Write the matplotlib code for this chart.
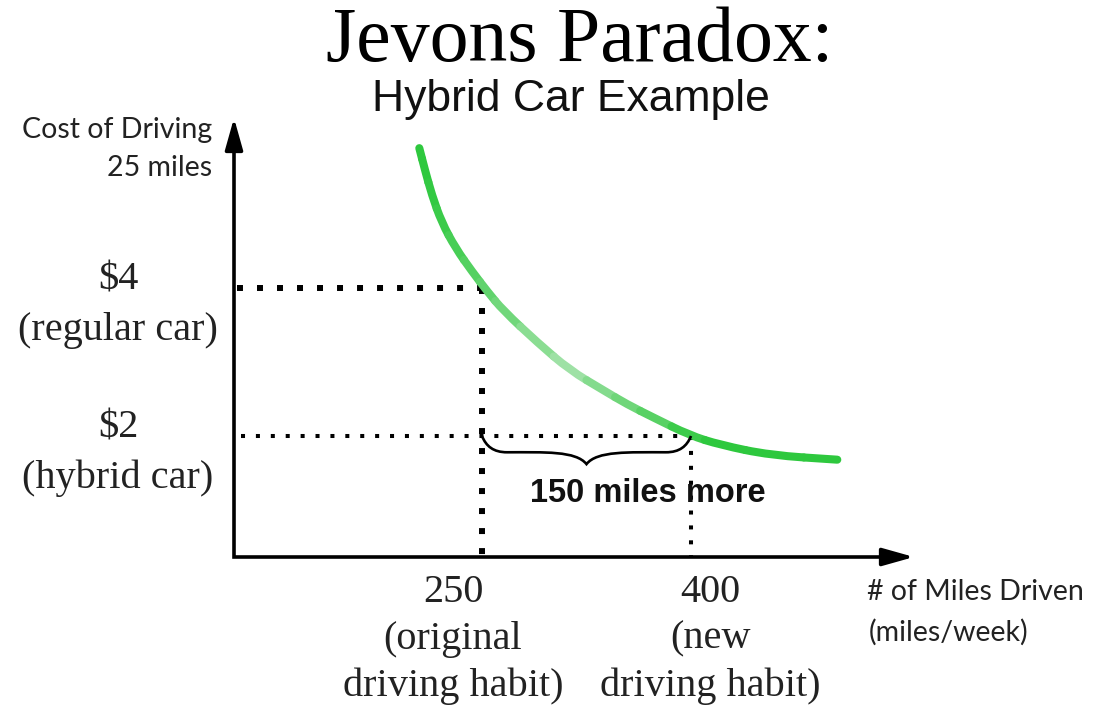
import numpy as np
import matplotlib
matplotlib.use("Agg")
import matplotlib.pyplot as plt
from matplotlib.path import Path
from matplotlib.patches import PathPatch
from matplotlib.colors import to_rgb

# ---------------- data ----------------
title = "Jevons Paradox:"
subtitle = "Hybrid Car Example"
y_label = ["Cost of Driving", "25 miles"]
x_label = ["# of Miles Driven", "(miles/week)"]

miles_marks = [250, 400]
miles_labels = [["250", "(original", "driving habit)"], ["400", "(new", "driving habit)"]]
cost_marks = [4, 2]
cost_labels = [["$4", "(regular car)"], ["$2", "(hybrid car)"]]
brace_text = "150 miles more"

# demand curve (miles/week, cost of driving 25 miles in $)
curve_miles = [205, 209, 214, 221, 231, 243, 254, 265, 290, 313, 337, 354, 373, 399, 421, 457, 505]
curve_cost = [5.89, 5.60, 5.26, 4.89, 4.54, 4.22, 3.95, 3.70, 3.26, 2.89, 2.62, 2.43, 2.25, 2.01, 1.88, 1.74, 1.68]

# ---------------- layout ----------------
W, H = 1094, 712
fig = plt.figure(figsize=(W / 100, H / 100), dpi=100)
ax = fig.add_axes([0, 0, 1, 1])
ppm = 209 / 150.0          # pixels per mile
ppd = 74.0                 # pixels per dollar
ax.set_xlim(250 - 482 / ppm, 250 + (W - 482) / ppm)
ax.set_ylim((584 - H) / ppd, 584 / ppd)
ax.axis("off")

def px2x(px):
    return 250 + (px - 482) / ppm

def py2y(py):
    return (584 - py) / ppd

x_axis_pos = px2x(234)
y_axis_pos = py2y(557)
y_top = py2y(118)
x_right = px2x(914)

# axes lines (joined corner) + arrowheads
ax.plot([x_axis_pos, x_axis_pos, x_right - 15 / ppm], [y_top - 15 / ppd, y_axis_pos, y_axis_pos],
        color="black", lw=2.6, solid_joinstyle="miter", solid_capstyle="butt", zorder=2)
ax.annotate("", xy=(x_axis_pos, y_top), xytext=(x_axis_pos, y_top - 25 / ppd),
            arrowprops=dict(arrowstyle="-|>,head_length=1.6,head_width=0.45", lw=2.6,
                            color="black", shrinkA=0, shrinkB=0, mutation_scale=12))
ax.annotate("", xy=(x_right, y_axis_pos), xytext=(x_right - 25 / ppm, y_axis_pos),
            arrowprops=dict(arrowstyle="-|>,head_length=1.6,head_width=0.45", lw=2.6,
                            color="black", shrinkA=0, shrinkB=0, mutation_scale=12))

# dotted guide lines
ax.plot([x_axis_pos + 2, miles_marks[0]], [cost_marks[0], cost_marks[0]], color="black",
        lw=4.3, linestyle=(0, (1, 2.35)), dash_capstyle="butt")
ax.plot([miles_marks[0], miles_marks[0]], [cost_marks[0], y_axis_pos], color="black",
        lw=4.3, linestyle=(0, (1, 2.35)), dash_capstyle="butt")
ax.plot([x_axis_pos + 5, miles_marks[1]], [cost_marks[1], cost_marks[1]], color="black",
        lw=2.9, linestyle=(0, (1, 2.7)), dash_capstyle="butt")
ax.plot([miles_marks[1], miles_marks[1]], [cost_marks[1], y_axis_pos], color="black",
        lw=2.9, linestyle=(0, (1, 2.7)), dash_capstyle="butt")

# gradient green curve, drawn as smooth quadratic pieces through the read points
P = np.column_stack([curve_miles, curve_cost]).astype(float)
M = (P[:-1] + P[1:]) / 2
dark = np.array(to_rgb("#2ec83e"))
light = np.array(to_rgb("#a2e2a8"))

def colour_at(m):
    k = float(np.clip(1 - abs(m - 310) / 100, 0, 1))
    return tuple(dark * (1 - k) + light * k)

pieces = [([P[0], M[0]], [Path.MOVETO, Path.LINETO])]
for i in range(1, len(P) - 1):
    pieces.append(([M[i - 1], P[i], M[i]], [Path.MOVETO, Path.CURVE3, Path.CURVE3]))
pieces.append(([M[-1], P[-1]], [Path.MOVETO, Path.LINETO]))
for verts, codes in pieces:
    xm = np.mean([v[0] for v in verts])
    ax.add_patch(PathPatch(Path(verts, codes), fill=False, lw=5.8, edgecolor=colour_at(xm),
                           capstyle="round", joinstyle="round", zorder=3))

# brace between the two mileage marks
x0, x1 = miles_marks
y0 = cost_marks[1]
wd = x1 - x0
xm = (x0 + x1) / 2
verts = [(x0, y0),
         (x0 + 0.02 * wd, y0 - 0.14), (x0 + 0.055 * wd, y0 - 0.22), (x0 + 0.12 * wd, y0 - 0.22),
         (x0 + 0.30 * wd, y0 - 0.22), (xm - 0.05 * wd, y0 - 0.2), (xm, y0 - 0.38),
         (xm + 0.05 * wd, y0 - 0.2), (x1 - 0.30 * wd, y0 - 0.22), (x1 - 0.12 * wd, y0 - 0.22),
         (x1 - 0.055 * wd, y0 - 0.22), (x1 - 0.02 * wd, y0 - 0.14), (x1, y0)]
codes = [Path.MOVETO] + [Path.CURVE4] * 12
ax.add_patch(PathPatch(Path(verts, codes), fill=False, lw=1.9, edgecolor="black", zorder=4))
ax.text(px2x(648), py2y(494), brace_text, ha="center", va="center",
        fontsize=23.5, fontweight="bold", family="Liberation Sans", color="#111111", zorder=5)

# titles
fig.text(580 / W, 1 - 42 / H, title, ha="center", va="center", fontsize=56,
         family="Liberation Serif", color="black")
fig.text(571 / W, 1 - 99 / H, subtitle, ha="center", va="center", fontsize=32,
         family="Liberation Sans", color="#111111")

# axis titles
fig.text(212 / W, 1 - 130 / H, y_label[0], ha="right", va="center", fontsize=20.5,
         family="Lato", color="#222222")
fig.text(212 / W, 1 - 168 / H, y_label[1], ha="right", va="center", fontsize=20.5,
         family="Lato", color="#222222")
fig.text(867 / W, 1 - 592 / H, x_label[0], ha="left", va="center", fontsize=20.5,
         family="Lato", color="#222222")
fig.text(869 / W, 1 - 632 / H, x_label[1], ha="left", va="center", fontsize=20.5,
         family="Lato", color="#222222")

# cost labels
for c, lab in zip(cost_marks, cost_labels):
    yc = 584 - c * ppd
    fig.text(118 / W, 1 - (yc - 8) / H, lab[0], ha="center", va="center", fontsize=29,
             family="Liberation Serif", color="#222222")
    fig.text(118 / W, 1 - (yc + 42) / H, lab[1], ha="center", va="center", fontsize=29,
             family="Liberation Serif", color="#222222")

# mileage labels
for m, lab, cx in zip(miles_marks, miles_labels, [453, 710]):
    for i, line in enumerate(lab):
        fig.text(cx / W, 1 - (592 + 47 * i) / H, line, ha="center", va="center",
                 fontsize=29, family="Liberation Serif", color="#222222")

fig.savefig("out.png", dpi=100, facecolor="white")
